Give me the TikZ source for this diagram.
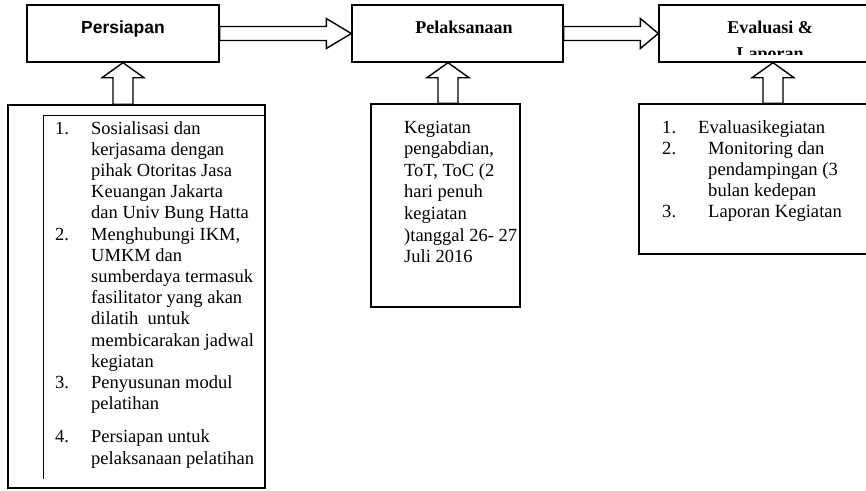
\documentclass[tikz,border=0pt]{standalone}
\usepackage{fontspec}
\setmainfont{Liberation Serif}
\newfontfamily\hdrsans{Liberation Sans}
\usetikzlibrary{calc}

\tikzset{
  box/.style={draw, line width=1.4pt, inner sep=0pt},
  blk/.style={draw, line width=1.4pt, fill=white, line join=miter},
  innerline/.style={draw, line width=0.8pt},
  hdr/.style={font=\fontsize{18}{26}\selectfont\bfseries, anchor=base, inner sep=0pt},
  listtext/.style={anchor=base west, inner sep=0pt},
}

% hollow block arrow pointing up: #1 tip, #2 a point on the base line
\newcommand\upblk[2]{%
  \draw[blk] let \p1=#1, \p2=#2 in
    (\x1,\y1) -- (\x1+21pt,\y1-15pt) -- (\x1+10pt,\y1-15pt) -- (\x1+10pt,\y2)
    -- (\x1-10pt,\y2) -- (\x1-10pt,\y1-15pt) -- (\x1-21pt,\y1-15pt) -- cycle;}

% hollow block arrow pointing right: #1 start, #2 tip, #3 head length
\newcommand\rightblk[3]{%
  \draw[blk] let \p1=#1, \p2=#2 in
    (\x1,\y1+7pt) -- (\x2-#3,\y1+7pt) -- (\x2-#3,\y1+15pt) -- (\x2,\y1)
    -- (\x2-#3,\y1-15pt) -- (\x2-#3,\y1-7pt) -- (\x1,\y1-7pt) -- cycle;}

\begin{document}
\begin{tikzpicture}[x=1pt, y=-1pt]
  \useasboundingbox (0,0) rectangle (866,490);
  \clip (0,0) rectangle (866,490);

  % stage boxes
  \node[box, minimum width=192pt, minimum height=57pt] (persiapan) at (123,33.5) {};
  \node[box, minimum width=211pt, minimum height=57pt] (pelaksanaan) at (457.5,33.5) {};
  \node[box, minimum width=228pt, minimum height=57pt] (evaluasi) at (773,33.5) {};

  \node[hdr, font=\hdrsans\fontsize{17.5}{22}\selectfont\bfseries] (tPersiapan) at (123,33) {Persiapan};
  \node[hdr] (tPelaksanaan) at (464,33) {Pelaksanaan};
  \begin{scope}
    \clip (660,6) rectangle (886,54);
    \node[hdr] (tEvaluasi) at (770,33) {\begin{tabular}[t]{@{}c@{}}Evaluasi \&\\Laporan\end{tabular}};
  \end{scope}

  % detail boxes
  \node[box, minimum width=257pt, minimum height=383pt] (boxA) at (136.5,296.5) {};
  \node[box, minimum width=149pt, minimum height=203pt] (boxB) at (445.5,205.5) {};
  \node[box, minimum width=260pt, minimum height=150pt] (boxC) at (769,179) {};

  % inner frame of the first list
  \draw[innerline] (boxA.east |- 0,115) -- (43,115) -- (43,479);

  % lists
  \node[listtext] (listA) at (55,134) {\fontsize{18.5}{21.2}\selectfont
    \begin{tabular}[t]{@{}p{36pt}@{}l@{}}
    1. & Sosialisasi dan\\
       & kerjasama dengan\\
       & pihak Otoritas Jasa\\
       & Keuangan Jakarta\\
       & dan Univ Bung Hatta\\
    2. & Menghubungi IKM,\\
       & UMKM dan\\
       & sumberdaya termasuk\\
       & fasilitator yang akan\\
       & dilatih\ \ untuk\\
       & membicarakan jadwal\\
       & kegiatan\\
    3. & Penyusunan modul\\
       & pelatihan\\[12pt]
    4. & Persiapan untuk\\
       & pelaksanaan pelatihan
    \end{tabular}};

  \node[listtext] (listB) at (404,133) {\fontsize{18.5}{21.6}\selectfont
    \begin{tabular}[t]{@{}l@{}}
    Kegiatan\\
    pengabdian,\\
    ToT, ToC (2\\
    hari penuh\\
    kegiatan\\
    )tanggal 26- 27\\
    Juli 2016
    \end{tabular}};

  \node[listtext] (listC) at (662,133) {\fontsize{18.6}{21}\selectfont
    \begin{tabular}[t]{@{}p{36pt}@{}l@{}}
    1. & Evaluasikegiatan\\
    2. & \hspace*{10pt}Monitoring dan\\
       & \hspace*{10pt}pendampingan (3\\
       & \hspace*{10pt}bulan kedepan\\
    3. & \hspace*{10pt}Laporan Kegiatan
    \end{tabular}};

  % flow between stages
  \rightblk{(persiapan.east)}{(pelaksanaan.west)}{25pt}
  \rightblk{(pelaksanaan.east)}{(evaluasi.west)}{18pt}

  % inputs feeding each stage
  \upblk{(persiapan.south)}{(boxA.north)}
  \upblk{([xshift=2.5pt]boxB.north |- pelaksanaan.south)}{(boxB.north)}
  \upblk{(evaluasi.south)}{(boxC.north)}
\end{tikzpicture}
\end{document}
